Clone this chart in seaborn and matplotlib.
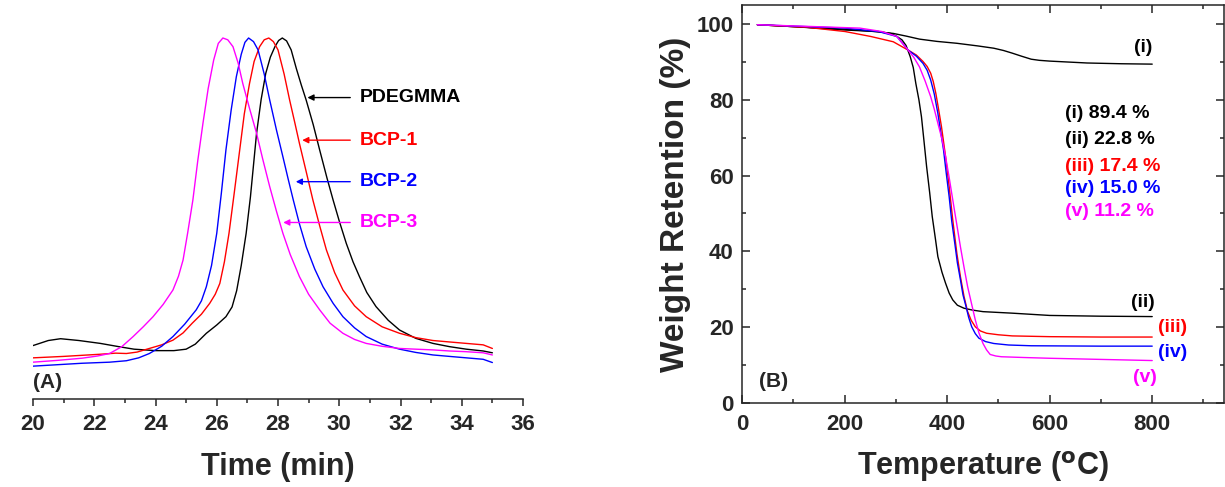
import numpy as np
import pandas as pd
import matplotlib
matplotlib.use("Agg")
import matplotlib.pyplot as plt
from matplotlib.ticker import MultipleLocator
import seaborn as sns

# ---------------- Panel A: GPC traces (normalized intensity) ----------------
pdegmma_t = [20.0, 20.5, 20.9, 21.5, 22.2, 22.8, 23.3, 24.0, 24.6, 25.0, 25.3, 25.66, 26.0, 26.3, 26.5,
             26.65, 26.8, 26.96, 27.1, 27.3, 27.45, 27.6, 27.75, 27.9, 28.02, 28.14, 28.28, 28.43, 28.6,
             28.76, 28.92, 29.15, 29.36, 29.6, 29.8, 30.0, 30.23, 30.45, 30.66, 30.9, 31.2, 31.6, 31.97,
             32.5, 33.06, 33.6, 34.15, 34.7, 35.0]
pdegmma_i = [0.148, 0.162, 0.167, 0.162, 0.154, 0.145, 0.138, 0.134, 0.134, 0.138, 0.152, 0.182, 0.205,
             0.228, 0.255, 0.30, 0.37, 0.459, 0.56, 0.736, 0.83, 0.902, 0.947, 0.976, 0.993, 1.0, 0.992,
             0.967, 0.915, 0.87, 0.828, 0.76, 0.69, 0.612, 0.551, 0.493, 0.431, 0.38, 0.339, 0.295, 0.256,
             0.218, 0.191, 0.168, 0.154, 0.145, 0.138, 0.133, 0.128]

bcp1_t = [20.0, 21.0, 22.2, 22.7, 23.05, 23.4, 23.8, 24.2, 24.57, 24.9, 25.2, 25.5, 25.77, 25.95, 26.1,
          26.25, 26.4, 26.57, 26.75, 26.9, 27.07, 27.22, 27.4, 27.55, 27.7, 27.85, 28.0, 28.2, 28.38,
          28.55, 28.7, 28.92, 29.14, 29.36, 29.58, 29.85, 30.12, 30.5, 30.88, 31.4, 31.97, 32.5, 33.06,
          33.6, 34.15, 34.7, 35.0]
bcp1_i = [0.114, 0.118, 0.124, 0.127, 0.126, 0.13, 0.140, 0.15, 0.163, 0.183, 0.21, 0.235, 0.265, 0.29,
          0.32, 0.38, 0.459, 0.57, 0.69, 0.79, 0.874, 0.935, 0.976, 0.995, 1.0, 0.99, 0.967, 0.9, 0.828,
          0.765, 0.708, 0.63, 0.551, 0.48, 0.413, 0.35, 0.302, 0.258, 0.228, 0.2, 0.182, 0.17, 0.162,
          0.158, 0.154, 0.15, 0.140]

bcp2_t = [20.0, 21.6, 22.5, 23.05, 23.45, 23.8, 24.2, 24.57, 24.95, 25.33, 25.5, 25.66, 25.83, 26.0,
          26.15, 26.3, 26.47, 26.64, 26.8, 26.92, 27.04, 27.2, 27.35, 27.55, 27.73, 27.95, 28.16, 28.33,
          28.5, 28.7, 28.92, 29.2, 29.47, 29.8, 30.12, 30.5, 30.88, 31.4, 31.97, 32.5, 33.06, 33.6,
          34.15, 34.7, 35.0]
bcp2_i = [0.091, 0.099, 0.102, 0.106, 0.114, 0.126, 0.146, 0.173, 0.207, 0.247, 0.272, 0.311, 0.37,
          0.459, 0.57, 0.69, 0.80, 0.893, 0.955, 0.988, 1.0, 0.99, 0.967, 0.9, 0.828, 0.745, 0.671, 0.61,
          0.551, 0.485, 0.422, 0.36, 0.311, 0.265, 0.228, 0.197, 0.173, 0.152, 0.138, 0.129, 0.122,
          0.118, 0.114, 0.11, 0.101]

bcp3_t = [20.0, 20.8, 21.6, 22.1, 22.5, 22.9, 23.27, 23.6, 23.92, 24.25, 24.57, 24.75, 24.9, 25.05,
          25.22, 25.38, 25.55, 25.72, 25.9, 26.05, 26.2, 26.36, 26.53, 26.7, 26.85, 27.07, 27.3, 27.5,
          27.73, 27.95, 28.16, 28.4, 28.7, 29.0, 29.36, 29.7, 30.12, 30.5, 30.88, 31.4, 31.97, 32.5,
          33.06, 33.6, 34.15, 34.7, 35.0]
bcp3_i = [0.102, 0.107, 0.113, 0.119, 0.126, 0.145, 0.173, 0.2, 0.228, 0.262, 0.302, 0.34, 0.385, 0.46,
          0.551, 0.66, 0.764, 0.86, 0.939, 0.985, 1.0, 0.995, 0.976, 0.93, 0.874, 0.805, 0.736, 0.665,
          0.588, 0.52, 0.459, 0.4, 0.339, 0.29, 0.247, 0.21, 0.182, 0.165, 0.154, 0.146, 0.14, 0.138,
          0.136, 0.133, 0.131, 0.128, 0.122]

gpc_names = ["PDEGMMA", "BCP-1", "BCP-2", "BCP-3"]
gpc_t = [pdegmma_t, bcp1_t, bcp2_t, bcp3_t]
gpc_i = [pdegmma_i, bcp1_i, bcp2_i, bcp3_i]
time_ticks = [20, 22, 24, 26, 28, 30, 32, 34, 36]

# ---------------- Panel B: TGA curves ----------------
tga_i_T = [30, 100, 201, 250, 295, 320, 346, 380, 419, 460, 491, 510, 527, 545, 564, 580, 600, 673, 740, 800]
tga_i_W = [99.8, 99.3, 98.6, 98.1, 97.5, 96.8, 96.0, 95.4, 94.9, 94.2, 93.6, 93.0, 92.3, 91.5, 90.7, 90.4,
           90.2, 89.7, 89.5, 89.4]

tga_ii_T = [30, 100, 201, 266, 290, 302, 312, 320, 328, 334, 339, 345, 350, 355, 360, 366, 371, 377, 382,
            390, 397, 404, 411, 420, 433, 450, 470, 527, 600, 700, 800]
tga_ii_W = [99.8, 99.3, 98.4, 98.0, 97.5, 96.7, 95.8, 94.3, 91.4, 88.5, 84.3, 80.0, 75.5, 69.0, 62.4, 55.5,
            49.2, 43.5, 38.6, 34.5, 31.6, 29.0, 27.2, 25.8, 25.0, 24.5, 24.1, 23.7, 23.1, 22.9, 22.8]

tga_iii_T = [30, 128, 201, 251, 295, 324, 340, 353, 361, 368, 373, 378, 383, 389, 393, 397, 404, 411, 419,
             426, 433, 440, 447, 455, 465, 477, 500, 527, 600, 700, 800]
tga_iii_W = [99.8, 99.1, 98.0, 96.7, 95.3, 93.1, 91.8, 90.1, 88.8, 87.0, 84.8, 81.7, 77.8, 72.9, 69.0,
             65.0, 57.1, 48.3, 39.5, 33.3, 28.1, 24.1, 21.8, 20.1, 19.0, 18.4, 18.0, 17.7, 17.5, 17.4, 17.4]

tga_iv_T = [30, 201, 266, 302, 324, 340, 353, 361, 368, 375, 382, 387, 393, 398, 404, 409, 415, 420, 426,
            431, 437, 442, 448, 455, 462, 475, 491, 520, 564, 700, 800]
tga_iv_W = [99.8, 98.9, 98.0, 96.7, 93.1, 91.5, 89.6, 87.8, 85.2, 81.5, 76.4, 72.0, 66.8, 61.0, 54.4,
            48.0, 42.1, 37.0, 32.5, 28.5, 25.4, 22.6, 20.1, 18.3, 17.1, 16.2, 15.7, 15.3, 15.1, 15.0, 15.0]

tga_v_T = [30, 230, 273, 302, 324, 335, 346, 357, 368, 375, 382, 390, 397, 404, 411, 419, 426, 433, 440,
           448, 455, 462, 470, 477, 484, 495, 506, 550, 600, 700, 800]
tga_v_W = [99.8, 98.9, 98.0, 96.7, 93.1, 91.2, 88.7, 85.0, 80.8, 77.5, 73.8, 69.6, 65.0, 59.5, 53.6,
           47.0, 41.2, 35.8, 30.7, 26.0, 21.9, 18.5, 15.7, 14.0, 12.8, 12.4, 12.2, 12.0, 11.8, 11.5, 11.2]

tga_names = ["(i)", "(ii)", "(iii)", "(iv)", "(v)"]
tga_T = [tga_i_T, tga_ii_T, tga_iii_T, tga_iv_T, tga_v_T]
tga_W = [tga_i_W, tga_ii_W, tga_iii_W, tga_iv_W, tga_v_W]
residues = ["89.4 %", "22.8 %", "17.4 %", "15.0 %", "11.2 %"]

# ---------------- style ----------------
sns.set_style("ticks")
plt.rcParams["font.family"] = ["Liberation Sans", "DejaVu Sans"]
plt.rcParams["font.weight"] = "bold"
plt.rcParams["axes.linewidth"] = 1.1

gpc_colors = ["black", "#ff0000", "#0000ff", "#ff00ff"]
tga_colors = ["black", "black", "#ff0000", "#0000ff", "#ff00ff"]

fig = plt.figure(figsize=(12.25, 4.87), dpi=100)

# ---------------- Panel A ----------------
axA = fig.add_axes([33 / 1225, 88 / 487, 490 / 1225, 397 / 487])
gpc_df = pd.concat([pd.DataFrame({"t": t, "I": i, "s": n}) for n, t, i in zip(gpc_names, gpc_t, gpc_i)])
sns.lineplot(data=gpc_df, x="t", y="I", hue="s", palette=dict(zip(gpc_names, gpc_colors)),
             sort=False, estimator=None, lw=1.0, legend=False, ax=axA)
axA.set_xlim(20, 36)
axA.set_ylim(0, 397 / 361)
axA.set_xticks(time_ticks)
axA.xaxis.set_minor_locator(MultipleLocator(1))
axA.set_yticks([])
axA.set_ylabel("")
axA.set_xlabel("Time (min)", fontsize=22, fontweight="bold", labelpad=12)
for s in ["left", "right", "top"]:
    axA.spines[s].set_visible(False)
axA.tick_params(axis="x", which="major", direction="out", length=5, width=1.1, labelsize=16, pad=6)
axA.tick_params(axis="x", which="minor", direction="out", length=3, width=1.1)
for lab in axA.get_xticklabels():
    lab.set_fontweight("bold")
axA.patch.set_alpha(0)

# arrows + labels
arrow_y = [0.835, 0.717, 0.602, 0.489]
arrow_tip = [28.87, 28.70, 28.49, 28.08]
for n, c, y, tip in zip(gpc_names, gpc_colors, arrow_y, arrow_tip):
    axA.annotate("", xy=(tip, y), xytext=(30.45, y),
                 arrowprops=dict(arrowstyle="-|>", color=c, lw=1.0, mutation_scale=9))
    axA.text(30.68, y, n, color=c, fontsize=14, fontweight="bold", va="center", ha="left")
axA.text(20.0, 0.045, "(A)", fontsize=15, fontweight="bold", va="center", ha="left")

# ---------------- Panel B ----------------
axB = fig.add_axes([742 / 1225, 84 / 487, 482 / 1225, 398 / 487])
tga_df = pd.concat([pd.DataFrame({"T": t, "W": w, "s": n}) for n, t, w in zip(tga_names, tga_T, tga_W)])
sns.lineplot(data=tga_df, x="T", y="W", hue="s", palette=dict(zip(tga_names, tga_colors)),
             sort=False, estimator=None, lw=1.0, legend=False, ax=axB)
axB.set_xlim(0, 940)
axB.set_ylim(0, 105)
axB.set_xticks([0, 200, 400, 600, 800])
axB.set_yticks([0, 20, 40, 60, 80, 100])
axB.xaxis.set_minor_locator(MultipleLocator(100))
axB.yaxis.set_minor_locator(MultipleLocator(10))
axB.tick_params(which="both", direction="in", top=True, right=True, width=1.1)
axB.tick_params(which="major", length=6, labelsize=16)
axB.tick_params(axis="x", which="major", pad=8)
axB.tick_params(axis="y", which="major", pad=6)
axB.tick_params(which="minor", length=3)
for lab in axB.get_xticklabels() + axB.get_yticklabels():
    lab.set_fontweight("bold")
axB.set_xlabel("Temperature ($\\mathbf{^o}$C)", fontsize=22, fontweight="bold", labelpad=10)
axB.set_ylabel("Weight Retention (%)", fontsize=24, fontweight="bold", labelpad=4)

# residue text block
res_y = [76.5, 69.6, 62.5, 56.7, 50.4]
for n, r, c, y in zip(tga_names, residues, tga_colors, res_y):
    axB.text(630, y, f"{n} {r}", color=c, fontsize=14, fontweight="bold", va="center", ha="left")

# curve labels
lab_pos = [(782, 93.7), (782, 26.6), (839, 19.8), (840, 13.4), (785, 6.6)]
for n, c, (x, y) in zip(tga_names, tga_colors, lab_pos):
    axB.text(x, y, n, color=c, fontsize=14, fontweight="bold", va="center", ha="center")
axB.text(62, 5.6, "(B)", fontsize=15, fontweight="bold", va="center", ha="center")

fig.savefig("out.png", dpi=100)
